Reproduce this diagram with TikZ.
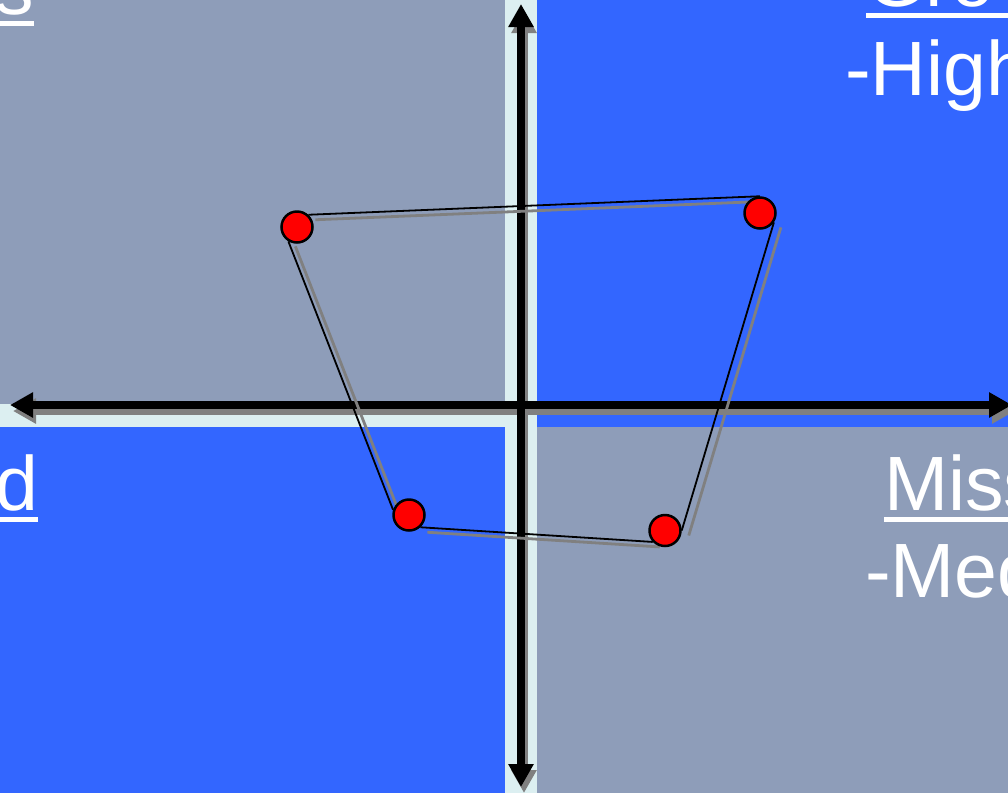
\documentclass[tikz,border=0pt]{standalone}
\usepackage{fontspec}
\setmainfont{Liberation Sans}
\usetikzlibrary{arrows.meta}
\definecolor{quadgray}{HTML}{8E9DB9}
\definecolor{quadblue}{HTML}{3366FF}
\definecolor{gapcyan}{HTML}{DCEFF1}
\definecolor{shadegray}{HTML}{808080}
\pgfdeclarelayer{back}
\pgfdeclarelayer{mid}
\pgfsetlayers{back,mid,main}

\begin{document}
\begin{tikzpicture}[x=1pt,y=-1pt,
  axis/.style={line width=7.5pt,draw=#1,
    {Triangle[length=23pt,width=24pt]}-{Triangle[length=23pt,width=24pt]}},
  dropaxis/.style={shift={(3,6)}},
  dropline/.style={shift={(7,5)}},
  edge/.style={draw=black,line width=1.8pt},
  edgeshade/.style={draw=shadegray,line width=2.8pt},
  dot/.style={circle,draw=black,line width=2.5pt,fill=red,minimum size=31pt,inner sep=0pt},
  lbl/.style={text=white,inner sep=0pt,outer sep=0pt,anchor=base west,
    font=\fontsize{77}{87}\selectfont},
  uline/.style={draw=white,line width=5pt},
]
  \useasboundingbox (0,0) rectangle (1008,793);
  \clip (0,0) rectangle (1008,793);
  \begin{pgfonlayer}{back}
  \fill[gapcyan] (0,0) rectangle (1008,793);
  \fill[quadgray] (0,0) rectangle (505,404);
  \fill[quadblue] (537,0) rectangle (1008,427);
  \fill[quadblue] (0,427) rectangle (505,793);
  \fill[quadgray] (537,427) rectangle (1008,793);

  \coordinate (ytop) at (521,4);
  \coordinate (ybot) at (521,787);
  \coordinate (xleft) at (10,405);
  \coordinate (xright) at (1012,405);
  \draw[axis=shadegray] ([dropaxis]ytop) -- ([dropaxis]ybot);
  \draw[axis=shadegray] ([dropaxis]xleft) -- ([dropaxis]xright);
  \draw[axis=black] (ytop) -- (ybot);
  \draw[axis=black] (xleft) -- (xright);
  \end{pgfonlayer}

  \node[lbl,anchor=base east] (tlword) at (34,14) {s};
  \node[lbl] (trword) at (866,6) {Gro};
  \node[lbl] (trline) at (845,95) {-High};
  \node[lbl,anchor=base east] (blword) at (38,510) {d};
  \node[lbl] (brword) at (884,510) {Miss};
  \node[lbl] (brline) at (865,597) {-Med};
  \draw[uline] ([yshift=-9.5pt]tlword.base east) -- ++(-60,0);
  \draw[uline] ([yshift=-9.5pt]trword.base west) -- ++(200,0);
  \draw[uline] ([yshift=-9.5pt]blword.base east) -- ++(-60,0);
  \draw[uline] ([yshift=-9.5pt]brword.base west) -- ++(200,0);

  \node[dot] (c1) at (297,227) {};
  \node[dot] (c2) at (760,213) {};
  \node[dot] (c3) at (409,515) {};
  \node[dot] (c4) at (665,530.5) {};

  \begin{pgfonlayer}{mid}
  \path ([dropline]c1.47) edge[edgeshade] ([dropline]c2.north)
        ([dropline]c2.-34) edge[edgeshade] ([dropline]c4.east)
        ([dropline]c3.-47) edge[edgeshade] ([dropline]c4.223)
        ([dropline]c1.239) edge[edgeshade] ([dropline]c3.162);
  \path (c1.47) edge[edge] (c2.north)
        (c2.-34) edge[edge] (c4.east)
        (c3.-47) edge[edge] (c4.223)
        (c1.239) edge[edge] (c3.162);
  \end{pgfonlayer}
\end{tikzpicture}
\end{document}
